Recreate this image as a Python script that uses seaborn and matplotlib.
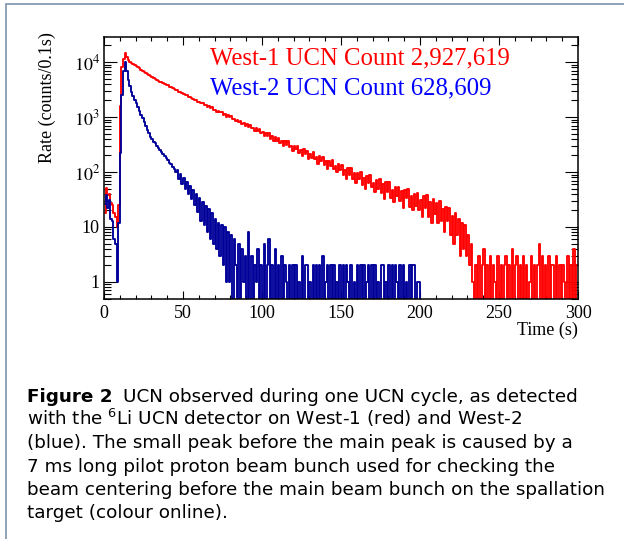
import numpy as np
import pandas as pd
import matplotlib
matplotlib.use("Agg")
import matplotlib.pyplot as plt
from matplotlib.patches import Rectangle
from matplotlib.ticker import (FixedLocator, FixedFormatter, MultipleLocator,
                               LogLocator, NullFormatter)
import seaborn as sns

# UCN rate in counts per 0.1 s, one value per 1 s time bin starting at t = 0
west1_counts = [
    18, 52, 38, 40, 27, 25, 18, 15, 10, 25,
    1600, 8000, 11500, 14500, 12500, 10800, 10100, 9750, 9200, 8900,
    8350, 8050, 7650, 7300, 7000, 6650, 6400, 6100, 5850, 5550,
    5300, 5020, 4950, 4680, 4610, 4370, 4300, 4070, 4010, 3800,
    3740, 3540, 3490, 3300, 3255, 3080, 3035, 2870, 2830, 2680,
    2640, 2495, 2465, 2325, 2300, 2170, 2145, 2020, 2000, 1885,
    1865, 1760, 1801, 1623, 1641, 1496, 1568, 1455, 1515, 1350,
    1348, 1240, 1309, 1210, 1245, 1106, 1130, 1006, 1083, 993,
    1040, 918, 926, 835, 895, 821, 855, 740, 771, 680,
    737, 670, 726, 618, 628, 567, 623, 564, 596, 504,
    528, 446, 519, 448, 514, 402, 443, 361, 435, 372,
    422, 334, 359, 302, 366, 307, 363, 279, 302, 237,
    298, 258, 291, 218, 255, 198, 265, 212, 238, 169,
    216, 178, 227, 172, 184, 142, 193, 161, 187, 134,
    158, 115, 157, 128, 166, 112, 130, 99, 137, 110,
    136, 89, 107, 76, 119, 87, 118, 76, 96, 64,
    96, 76, 98, 58, 78, 50, 85, 62, 88, 54,
    64, 44, 71, 49, 75, 41, 60, 32, 65, 44,
    66, 33, 48, 28, 53, 36, 53, 30, 45, 22,
    47, 33, 50, 23, 36, 20, 39, 24, 41, 20,
    31, 15, 36, 22, 38, 15, 28, 12, 32, 17,
    27, 12, 30, 13, 21, 8, 23, 13, 22, 7,
    16, 5, 18, 7, 14, 3, 12, 4, 11, 3,
    7, 2, 5, 1, 0, 2, 0, 3, 0, 2,
    4, 0, 2, 0, 3, 0, 2, 1, 0, 3,
    0, 2, 0, 2, 3, 0, 2, 0, 4, 0,
    2, 3, 0, 2, 0, 3, 0, 2, 0, 1,
    3, 0, 2, 0, 2, 5, 0, 3, 0, 2,
    0, 3, 0, 2, 2, 0, 3, 0, 2, 0,
    2, 1, 0, 3, 0, 2, 0, 4, 0, 2,
]

west2_counts = [
    26, 38, 22, 31, 14, 13, 6, 5, 1, 12,
    220, 2500, 7000, 10000, 7000, 4800, 3650, 2900, 2400, 2030,
    1780, 1520, 1300, 1110, 940, 800, 690, 590, 510, 440,
    390, 352, 330, 298, 278, 250, 234, 210, 196, 176,
    164, 147, 137, 122, 115, 102, 110, 74, 92, 60,
    78, 49, 66, 40, 56, 32, 47, 25, 40, 19,
    33, 13, 28, 11, 24, 8, 21, 6, 18, 5,
    14, 4, 12, 3, 11, 2, 10, 1, 8, 1,
    7, 0, 6, 2, 0, 5, 0, 4, 1, 3,
    0, 8, 0, 3, 0, 2, 1, 4, 0, 2,
    0, 5, 0, 2, 6, 0, 2, 0, 4, 0,
    2, 0, 3, 0, 2, 1, 0, 2, 0, 2,
    0, 2, 0, 1, 0, 3, 0, 2, 2, 0,
    1, 0, 2, 0, 2, 0, 2, 0, 3, 0,
    1, 2, 0, 2, 0, 2, 0, 1, 0, 2,
    0, 2, 0, 2, 1, 0, 2, 0, 1, 0,
    2, 0, 2, 0, 2, 0, 1, 2, 0, 2,
    0, 2, 0, 1, 0, 2, 2, 0, 1, 0,
    2, 0, 2, 0, 2, 1, 0, 2, 0, 2,
    0, 1, 0, 2, 0, 2, 2, 0, 1, 1,
    0,
]

west1_label = "West-1 UCN Count 2,927,619"
west2_label = "West-2 UCN Count 628,609"
x_ticks = [0, 50, 100, 150, 200, 250, 300]
y_ticks = [1, 10, 100, 1000, 10000]
y_tick_labels = ["1", "10", r"$10^{2}$", r"$10^{3}$", r"$10^{4}$"]

caption_lines = [
    "with the $^{6}$Li UCN detector on West-1 (red) and West-2",
    "(blue). The small peak before the main peak is caused by a",
    "7 ms long pilot proton beam bunch used for checking the",
    "beam centering before the main beam bunch on the spallation",
    "target (colour online).",
]

bin_width = 1.0


def histogram_frame(counts, name):
    centers = (np.arange(len(counts)) + 0.5) * bin_width
    return pd.DataFrame({"time": centers, "rate": counts, "detector": name})


df = pd.concat([histogram_frame(west1_counts, "West-1"),
                histogram_frame(west2_counts, "West-2")], ignore_index=True)

sns.set_style("ticks")
plt.rcParams["font.family"] = ["Liberation Serif", "DejaVu Serif"]
plt.rcParams["mathtext.fontset"] = "stix"
plt.rcParams["text.color"] = "black"
plt.rcParams["axes.edgecolor"] = "black"
plt.rcParams["xtick.color"] = "black"
plt.rcParams["ytick.color"] = "black"
plt.rcParams["path.simplify"] = False

W, H = 624, 539
fig = plt.figure(figsize=(W / 100, H / 100), dpi=100)
fig.patch.set_facecolor("white")

ax = fig.add_axes([104 / W, 1 - 299 / H, 474 / W, 262 / H])
sns.lineplot(data=df, x="time", y="rate", hue="detector",
             hue_order=["West-1", "West-2"],
             palette={"West-1": "#ff0000", "West-2": "#000099"},
             drawstyle="steps-mid", estimator=None, legend=False,
             linewidth=1.35, ax=ax)

ax.set_yscale("log")
ax.set_xlim(0, 300)
ax.set_ylim(0.49, 2.85e4)
ax.set_xlabel("")
ax.set_ylabel("")

ax.xaxis.set_major_locator(FixedLocator(x_ticks))
ax.xaxis.set_minor_locator(MultipleLocator(10))
ax.yaxis.set_major_locator(FixedLocator(y_ticks))
ax.yaxis.set_major_formatter(FixedFormatter(y_tick_labels))
ax.yaxis.set_minor_locator(LogLocator(base=10, subs=range(2, 10)))
ax.yaxis.set_minor_formatter(NullFormatter())

ax.tick_params(which="both", direction="in", top=True, right=True, width=0.8)
ax.tick_params(axis="x", which="major", length=5.8, labelsize=13, pad=4)
ax.tick_params(axis="x", which="minor", length=2.9)
ax.tick_params(axis="y", which="major", length=9.4, labelsize=13, pad=3)
ax.tick_params(axis="y", which="minor", length=5)
for spine in ax.spines.values():
    spine.set_linewidth(1.1)
    spine.set_color("black")

# series labels inside the frame
fig.text(210 / W, 1 - 64 / H, west1_label, color="#ff0000", fontsize=17.8,
         va="baseline", ha="left")
fig.text(210 / W, 1 - 94 / H, west2_label, color="#0000ff", fontsize=17.8,
         va="baseline", ha="left")

# axis titles, ROOT-style: flush with the frame ends
fig.text(578 / W, 1 - 330 / H, "Time (s)", fontsize=13, ha="right", va="center")
fig.text(47.5 / W, 1 - 32 / H, "Rate (counts/0.1s)", fontsize=13,
         rotation=90, ha="center", va="top")

# caption
cap_font = dict(family="DejaVu Sans", fontsize=13.2, va="baseline",
                math_fontfamily="dejavusans")
fig.text(27 / W, 1 - 401.7 / H, "Figure 2", fontweight="bold", **cap_font)
fig.text(123 / W, 1 - 401.7 / H, "UCN observed during one UCN cycle, as detected",
         **cap_font)
for i, line in enumerate(caption_lines):
    fig.text(27 / W, 1 - (401.7 + 23.3 * (i + 1)) / H, line, **cap_font)

# page frame
fig.add_artist(Rectangle((5.5 / W, -0.1), 1.2, 1 - 3.5 / H + 0.1,
                         transform=fig.transFigure, fill=False,
                         edgecolor="#7d92ab", linewidth=1.2))

fig.savefig("out.png", dpi=100)
